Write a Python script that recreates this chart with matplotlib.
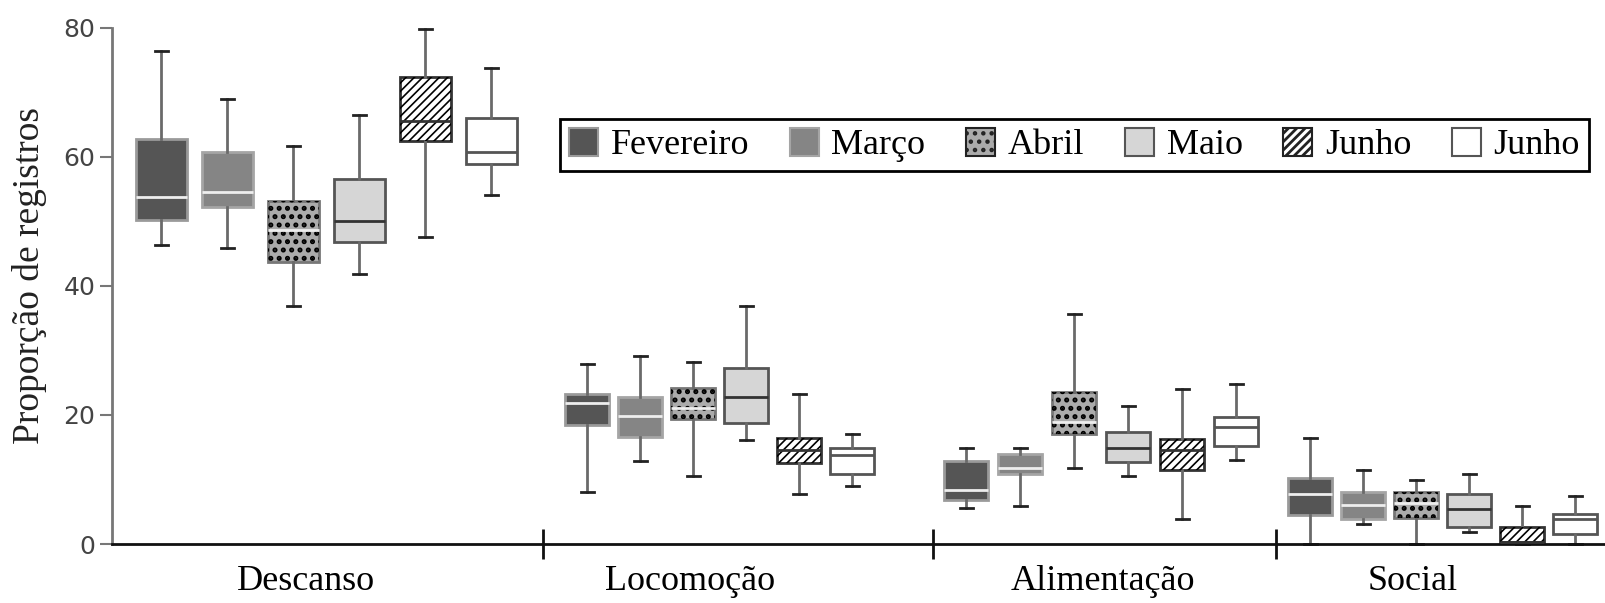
import matplotlib
matplotlib.use('Agg')
import matplotlib.pyplot as plt
from matplotlib.patches import Patch, PathPatch

# ---------------- data ----------------
categories = ['Descanso', 'Locomoção', 'Alimentação', 'Social']
months = ['Fevereiro', 'Março', 'Abril', 'Maio', 'Junho', 'Junho']

# rows = months (series), columns = categories
whisker_high = [
    [76.4, 27.9, 14.9, 16.4],
    [68.9, 29.1, 14.9, 11.5],
    [61.7, 28.2, 35.7, 9.9],
    [66.4, 36.9, 21.4, 10.9],
    [79.8, 23.3, 24.0, 5.9],
    [73.8, 17.1, 24.8, 7.5],
]
q3 = [
    [62.7, 23.2, 12.8, 10.2],
    [60.7, 22.7, 14.0, 8.1],
    [53.2, 24.2, 23.6, 8.1],
    [56.5, 27.3, 17.4, 7.8],
    [72.3, 16.4, 16.2, 2.6],
    [66.0, 14.8, 19.6, 4.6],
]
median = [
    [53.7, 21.8, 8.3, 7.8],
    [54.5, 19.9, 11.7, 6.0],
    [48.7, 21.1, 18.9, 6.3],
    [50.0, 22.7, 14.9, 5.4],
    [65.5, 14.6, 14.5, 0.3],
    [60.7, 13.8, 18.1, 3.9],
]
q1 = [
    [50.2, 18.5, 6.8, 4.5],
    [52.2, 16.6, 10.9, 3.8],
    [43.7, 19.3, 17.1, 4.1],
    [46.8, 18.7, 12.7, 2.6],
    [62.5, 12.5, 11.4, 0.3],
    [58.9, 10.9, 15.2, 1.5],
]
whisker_low = [
    [46.3, 8.1, 5.6, 0.0],
    [45.9, 12.8, 5.9, 3.1],
    [36.9, 10.6, 11.8, 0.0],
    [41.9, 16.1, 10.6, 1.9],
    [47.5, 7.8, 3.8, 0.0],
    [54.0, 9.0, 13.0, 0.0],
]
y_ticks = [0, 20, 40, 60, 80]

# ---------------- layout / style ----------------
W, H = 1605, 603
group_first = [161, 587, 966, 1310]
group_step = [66, 53, 54, 53]
group_width = [51, 44, 44, 44]
label_x = [306, 690, 1103, 1413]
separators = [543, 933, 1276]

fills = ['#555555', '#858585', '#ababab', '#d6d6d6', '#ffffff', '#ffffff']
edges = ['#9a9a9a', '#a5a5a5', '#777777', '#555555', '#333333', '#555555']
med_colors = ['#eeeeee', '#eeeeee', '#eeeeee', '#333333', '#333333', '#555555']
hatches = [None, None, '..', None, '////', None]
hatch_lw = [1.0, 1.0, 2.4, 1.0, 1.2, 1.0]

serif = ['Liberation Serif', 'DejaVu Serif']

fig = plt.figure(figsize=(W / 100, H / 100), dpi=100)
y0_px, y80_px = 544, 27.6
ax = fig.add_axes([112 / W, 1 - y0_px / H, 1 - 112 / W, (y0_px - y80_px) / H])

for s in range(len(months)):
    stats = []
    pos = []
    wid = []
    for c in range(len(categories)):
        stats.append(dict(med=median[s][c], q1=q1[s][c], q3=q3[s][c],
                          whislo=whisker_low[s][c], whishi=whisker_high[s][c],
                          fliers=[], label=''))
        pos.append(group_first[c] + s * group_step[c])
        wid.append(group_width[c])
    res = ax.bxp(stats, positions=pos, widths=wid, patch_artist=True,
                 showfliers=False, capwidths=[13] * 4,
                 boxprops=dict(facecolor=fills[s], edgecolor=edges[s], linewidth=2),
                 medianprops=dict(color=med_colors[s], linewidth=2),
                 whiskerprops=dict(color='#6a6a6a', linewidth=2),
                 capprops=dict(color='#222222', linewidth=2),
                 manage_ticks=False)
    for b in res['boxes']:
        b.set_zorder(2)
        b.set_clip_on(False)
        if hatches[s]:
            plt.rcParams['hatch.linewidth'] = hatch_lw[s]
            hp = PathPatch(b.get_path(), fill=False, hatch=hatches[s],
                           edgecolor='black', linewidth=0, zorder=2.5)
            ax.add_patch(hp)
    for m in res['medians']:
        m.set_zorder(3)
    for k in ('whiskers', 'caps'):
        for l in res[k]:
            l.set_clip_on(False)

plt.rcParams['hatch.linewidth'] = 1.2

ax.set_xlim(112, W)
ax.set_ylim(0, 80)
ax.set_yticks(y_ticks)
ax.set_yticklabels([str(v) for v in y_ticks], fontsize=18, color='#444444',
                   family='DejaVu Sans')
ax.tick_params(axis='y', length=9, width=1.5, color='#777777', pad=3)
ax.set_xticks(separators)
ax.set_xticklabels([])
ax.tick_params(axis='x', direction='inout', length=22, width=2, color='#111111')

for sp in ('top', 'right'):
    ax.spines[sp].set_visible(False)
ax.spines['left'].set_color('#777777')
ax.spines['left'].set_linewidth(2)
ax.spines['bottom'].set_color('#111111')
ax.spines['bottom'].set_linewidth(2)

fig.text(30 / W, 1 - 276 / H, 'Proporção de registros', family=serif, fontsize=27,
         color='#222222', rotation=90, ha='center', va='center')

for c, name in enumerate(categories):
    fig.text(label_x[c] / W, 1 - 581 / H, name, family=serif, fontsize=26,
             ha='center', va='center', color='black')

handles = []
for s in range(len(months)):
    plt.rcParams['hatch.linewidth'] = 1.0 if hatches[s] == '////' else 2.0
    handles.append(Patch(facecolor=fills[s],
                         edgecolor=edges[s] if not hatches[s] else '#222222',
                         hatch=hatches[s], linewidth=1.5))
leg = fig.legend(handles, months, loc='upper left',
                 bbox_to_anchor=(560 / W, 1 - 119 / H), ncol=6,
                 prop=dict(family=serif, size=26), frameon=True, fancybox=False,
                 framealpha=1, edgecolor='black', borderaxespad=0,
                 handlelength=0.8, handleheight=0.8, handletextpad=0.35,
                 columnspacing=1.13, borderpad=0.25)
leg.get_frame().set_linewidth(2)

fig.savefig('out.png', dpi=100)
